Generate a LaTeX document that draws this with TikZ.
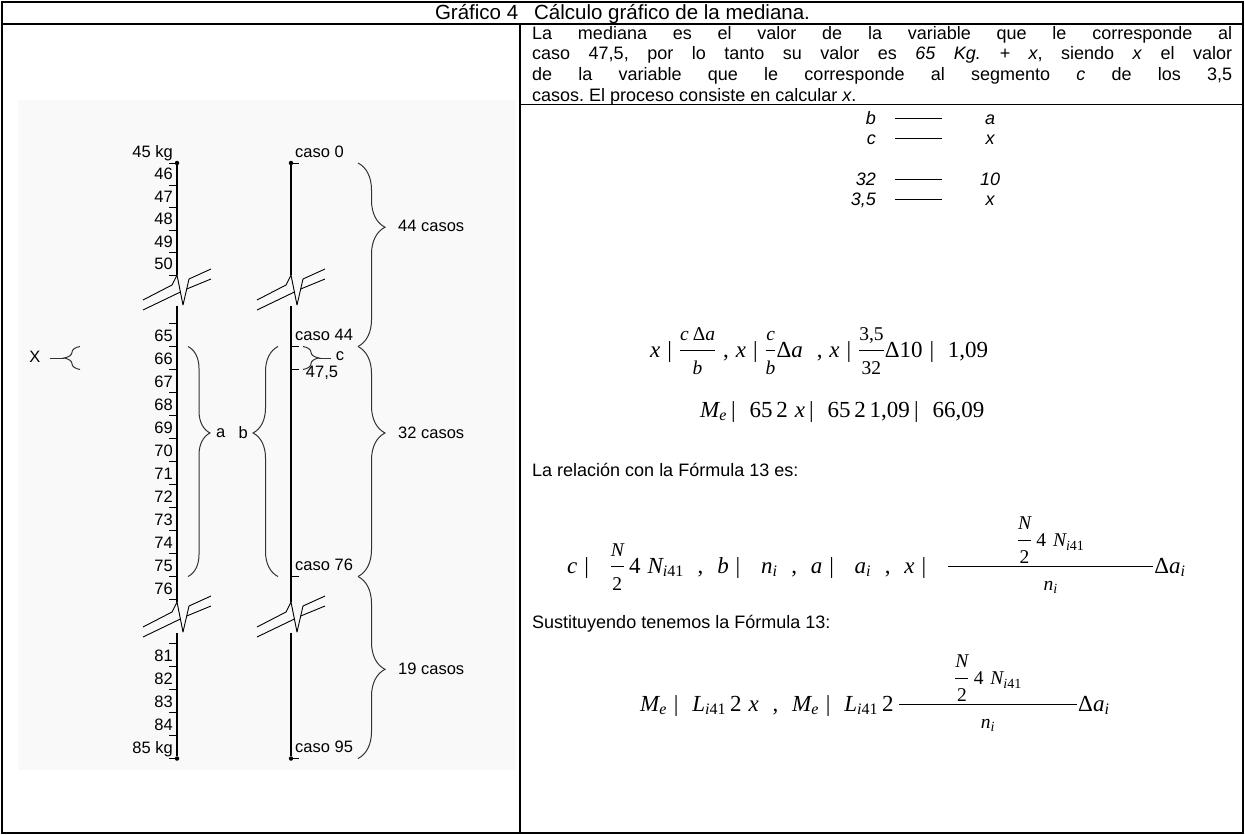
\documentclass[tikz,border=0pt]{standalone}
\usepackage{amsmath}
\usepackage{fontspec}
\setmainfont{Liberation Sans}
\newfontfamily\tms{Liberation Serif}
\usetikzlibrary{decorations.pathreplacing}
\frenchspacing
\newcommand\mv[1]{\text{\tms\itshape #1}}
\newcommand\mr[1]{\text{\tms #1}}
\newcommand\smf{\fontsize{19.5}{22}\selectfont}
\newcommand\sv[1]{\text{\smf\tms\itshape #1}}
\newcommand\sr[1]{\text{\smf\tms #1}}
\newcommand\sbm[1]{\text{\fontsize{16}{16}\selectfont\tms #1}}
\newcommand\sbs[1]{\text{\fontsize{14}{14}\selectfont\tms #1}}
\newcommand\fr[2]{\genfrac{}{}{0.9pt}{0}{#1}{#2}}
\newcommand\numer{\fr{\sv{N}}{\sr{2}}\,\sr{4}\;\sv{N}_{\sbs{\itshape i\upshape 41}}}
\begin{document}
\begin{tikzpicture}[x=1pt,y=-1pt,
  txt/.style={font=\fontsize{18}{20.7}\selectfont, inner sep=0pt},
  ttl/.style={font=\fontsize{20.5}{22}\selectfont, inner sep=0pt},
  lab/.style={font=\fontsize{16.5}{18}\selectfont, inner sep=0pt},
  frm/.style={font=\fontsize{23}{27}\selectfont, inner sep=0pt},
  rw/.style={font=\fontsize{18}{20.7}\selectfont\itshape, inner sep=0pt},
  frame/.style={line width=1.5pt},
  axis/.style={line width=1.1pt},
  tick/.style={line width=1pt},
  rule/.style={line width=1pt},
  brk/.style={line width=0.9pt, line join=round},
  brc/.style={decorate, decoration={brace, amplitude=27pt}, line width=1pt, draw=black!80},
  dot/.style={circle, fill=black, inner sep=0pt, minimum size=4.5pt},
]
\useasboundingbox (0,0) rectangle (1245,835);
\fill[black!2.5] (18,100) rectangle (516,770);

% table
\draw[frame] (2,2) rectangle (1243,833);
\draw[frame] (2,24) -- (1243,24);
\draw[frame] (520,24) -- (520,833);
\draw[frame] (520,104.5) -- (1243,104.5);

\node[ttl, anchor=base] (title) at (622.5,19.5) {Gráfico 4\hspace{16pt}Cálculo gráfico de la mediana.};

\node[txt, anchor=base west, text width=700pt, align=justify] (par) at (532,39)
 {\noindent La mediana es el valor de la variable que le corresponde al\linebreak
  caso 47,5, por lo tanto su valor es \textit{65 Kg.\ + x}, siendo \textit{x} el valor\linebreak
  de la variable que le corresponde al segmento \textit{c} de los 3,5\linebreak
  casos. El proceso consiste en calcular \textit{x}.};

% proportion rows
\node[rw, anchor=base east] (rb) at (876,124) {b};
\node[rw, anchor=base] (ra) at (990,124) {a};
\node[rw, anchor=base east] (rc) at (876,144.5) {c};
\node[rw, anchor=base] (rx1) at (990,144.5) {x};
\node[rw, anchor=base east] (r32) at (876,185) {32};
\node[rw, anchor=base] (r10) at (990,185) {10};
\node[rw, anchor=base east] (r35) at (876,205.5) {3,5};
\node[rw, anchor=base] (rx2) at (990,205.5) {x};
\foreach \y/\n in {124/1,144.5/2,185/3,205.5/4}{
  \coordinate (la\n) at (895,\y-6);
  \coordinate (lb\n) at (942,\y-6);
  \draw[rule] (la\n) -- (lb\n);
}

% formulas
\node[frm, anchor=base west] (f1) at (650,357)
 {$\mv{x}\;\mr{|}\;\fr{\sv{c}\,\sr{Δ}\sv{a}}{\sv{b}}\;\mr{,}\;\mv{x}\;\mr{|}\;\fr{\sv{c}}{\sv{b}}\mr{Δ}\mv{a}\;\;\mr{,}\;\mv{x}\;\mr{|}\;\fr{\sr{3,5}}{\sr{32}}\mr{Δ10}\;\mr{|}\;\;\mr{1,09}$};
\node[frm, anchor=base west] (f2) at (700,417)
 {$\mv{M}_{\sbm{\itshape e}}\,\mr{|}\;\;\mr{65\,2}\;\mv{x}\,\mr{|}\;\;\mr{65\,2\,1,09}\,\mr{|}\;\;\mr{66,09}$};
\node[txt, anchor=base west] (t3) at (532,476) {La relación con la Fórmula 13 es:};
\node[frm, anchor=base west] (f4) at (567,573)
 {$\mv{c}\;\mr{|}\;\;\;\fr{\sv{N}}{\sr{2}}\,\mr{4}\;\mv{N}_{\sbm{\itshape i\upshape 41}}\;\;\mr{,}\;\;\mv{b}\;\mr{|}\;\;\;\mv{n}_{\sbm{\itshape i}}\;\;\mr{,}\;\;\mv{a}\;\mr{|}\;\;\;\mv{a}_{\sbm{\itshape i}}\;\;\mr{,}\;\;\mv{x}\;\mr{|}\;\;\;\fr{\numer}{\makebox[205pt]{$\sv{n}_{\sbs{\itshape i}}$}}\mr{Δ}\mv{a}_{\sbm{\itshape i}}$};
\node[txt, anchor=base west] (t5) at (532,628) {Sustituyendo tenemos la Fórmula 13:};
\node[frm, anchor=base west] (f6) at (640,711)
 {$\mv{M}_{\sbm{\itshape e}}\;\mr{|}\;\;\mv{L}_{\sbm{\itshape i\upshape 41}}\,\mr{2}\;\mv{x}\;\;\mr{,}\;\;\mv{M}_{\sbm{\itshape e}}\;\mr{|}\;\;\mv{L}_{\sbm{\itshape i\upshape 41}}\,\mr{2}\,\fr{\numer}{\makebox[178pt]{$\sv{n}_{\sbs{\itshape i}}$}}\mr{Δ}\mv{a}_{\sbm{\itshape i}}$};

% ---------- left diagram ----------
\node[dot] (ktop) at (177,163) {};
\node[dot] (kbot) at (177,758.5) {};
\node[dot] (ctop) at (291,163) {};
\node[dot] (cbot) at (291,758.5) {};
\coordinate (k1) at (177,275); \coordinate (k2) at (177,306);
\coordinate (k3) at (177,602); \coordinate (k4) at (177,633);
\coordinate (c1) at (291,275); \coordinate (c2) at (291,306);
\coordinate (c3) at (291,602); \coordinate (c4) at (291,633);
\draw[axis] (ktop) -- (k1); \draw[axis] (k2) -- (k3); \draw[axis] (k4) -- (kbot);
\draw[axis] (ctop) -- (c1); \draw[axis] (c2) -- (c3); \draw[axis] (c4) -- (cbot);

% breaks
\foreach \x/\y in {177/275,291/275,177/602,291/602}{
  \draw[brk] (\x-34,\y+25) -- (\x-5,\y+10) -- (\x,\y) -- (\x+6,\y+30) -- (\x+12,\y+4) -- (\x+34,\y-6);
  \draw[brk] (\x-34,\y+35) -- (\x+3.4,\y+17);
  \draw[brk] (\x+9.7,\y+14) -- (\x+34,\y+4);
}

% kg ticks and labels
\foreach \v/\t in {45/45 kg,46/46,47/47,48/48,49/49,50/50}{
  \pgfmathsetmacro\yy{163+(\v-45)*22.4}
  \draw[tick] (169,\yy) -- (177,\yy);
  \node[lab, anchor=base east] (kl\v) at (173,\yy-5.5) {\t};
}
\draw[tick] (169,323.5) -- (177,323.5);
\foreach \v in {65,...,76}{
  \pgfmathsetmacro\yy{346.5+(\v-65)*23}
  \draw[tick] (169,\yy) -- (177,\yy);
  \node[lab, anchor=base east] (kl\v) at (173,\yy-5.5) {\v};
}
\draw[tick] (169,643.5) -- (177,643.5);
\foreach \v/\t in {81/81,82/82,83/83,84/84,85/85 kg}{
  \pgfmathsetmacro\yy{758.5-(85-\v)*23}
  \draw[tick] (169,\yy) -- (177,\yy);
  \node[lab, anchor=base east] (kl\v) at (173,\yy-5.5) {\t};
}

% case ticks and labels
\foreach \yy in {163,346.5,369.5,576.5,758.5}{
  \draw[tick] (291,\yy) -- (299,\yy);
}
\node[lab, anchor=base west] (cl0) at (295,157.4) {caso 0};
\node[lab, anchor=base west] (cl44) at (295,340.9) {caso 44};
\node[lab, anchor=base west] (cl76) at (295,570.9) {caso 76};
\node[lab, anchor=base west] (cl95) at (295,752.9) {caso 95};
\node[lab] (cl475) at (322,373) {47,5};

% right braces
\draw[brc, decoration={aspect=0.35}] (358,163) -- (358,346.5);
\draw[brc, decoration={aspect=0.376}] (358,346.5) -- (358,576.5);
\draw[brc, decoration={aspect=0.51}] (358,576.5) -- (358,758.5);
\node[lab, anchor=west] (n44) at (398,226) {44 casos};
\node[lab, anchor=west] (n32) at (398,433) {32 casos};
\node[lab, anchor=west] (n19) at (398,669) {19 casos};

% a and b braces
\draw[brc, decoration={amplitude=22pt, aspect=0.376}] (188,346.5) -- (188,576.5);
\node[lab, anchor=west] (na) at (216,433) {a};
\draw[brc, decoration={amplitude=25pt, aspect=0.624}] (278,576.5) -- (278,346.5);
\node[lab, anchor=east] (nb) at (248,433) {b};

% X brace
\draw[brc, decoration={amplitude=16pt, aspect=0.5}] (80,369.5) -- (80,346.5);
\coordinate (xt) at (64,358);
\coordinate (xe) at (50,358);
\node[lab] (nX) at (35,357) {X};
\draw[line width=1pt, draw=black!80] (xt) -- (xe);

% c brace
\draw[brc, decoration={amplitude=16pt, aspect=0.5}] (303,346.5) -- (303,369.5);
\coordinate (ct) at (319,358);
\coordinate (ce) at (331,358);
\draw[line width=1pt, draw=black!80] (ct) -- (ce);
\node[lab] (nc) at (340,356) {c};
\end{tikzpicture}
\end{document}
